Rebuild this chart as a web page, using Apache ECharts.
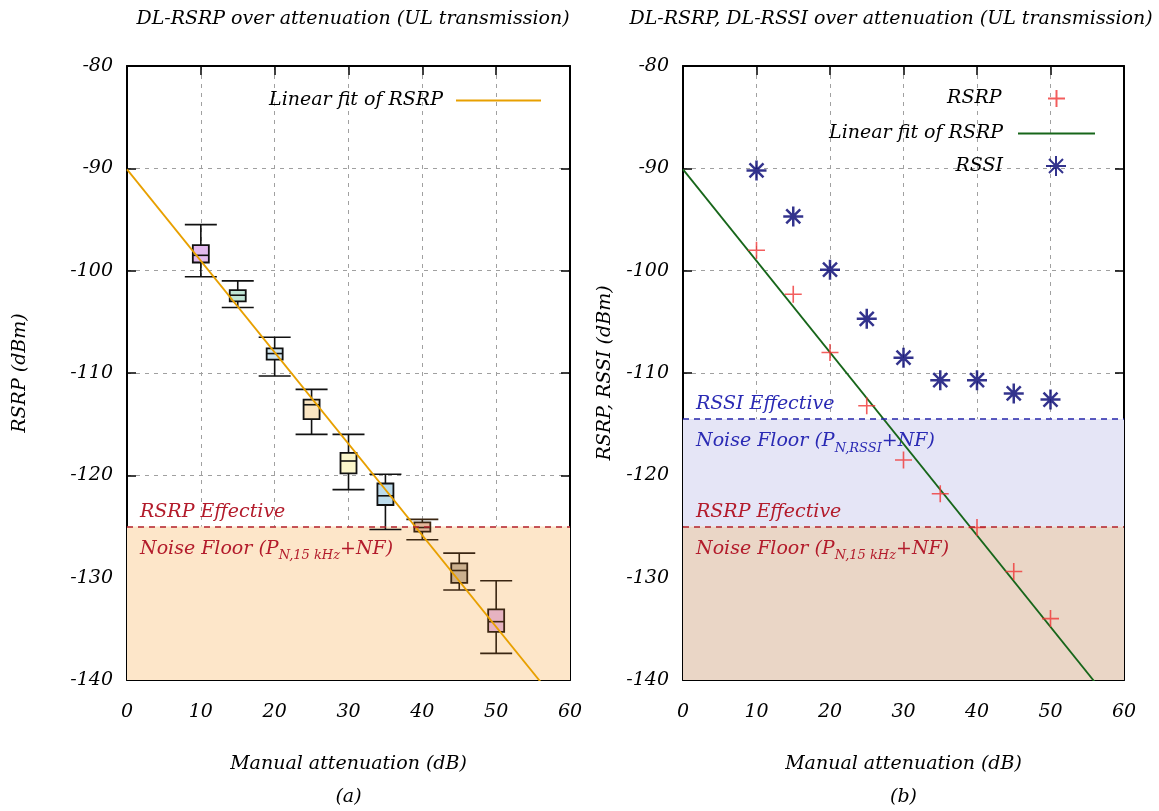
<!DOCTYPE html>
<html>
<head>
<meta charset="utf-8">
<script src="https://cdn.jsdelivr.net/npm/echarts@6/dist/echarts.min.js"></script>
<style>
html,body{margin:0;padding:0;background:#fff;}
#main{width:1159px;height:811px;}
</style>
</head>
<body>
<div id="main"></div>
<script>
// ---------- data ----------
const attenuation = [10, 15, 20, 25, 30, 35, 40, 45, 50];
// left panel: RSRP distribution per attenuation (whisker min, box low, median, box high, whisker max)
const boxMin  = [-100.6, -103.6, -110.3, -116.0, -121.4, -125.3, -126.3, -131.2, -137.4];
const boxQ1   = [-99.2, -103.0, -108.7, -114.5, -119.8, -122.9, -125.5, -130.5, -135.3];
const boxMed  = [-98.5, -102.4, -108.1, -113.1, -118.6, -122.0, -125.1, -129.3, -134.3];
const boxQ3   = [-97.5, -101.9, -107.6, -112.6, -117.8, -120.8, -124.6, -128.6, -133.1];
const boxMax  = [-95.5, -101.0, -106.5, -111.6, -116.0, -119.9, -124.3, -127.6, -130.3];
const boxColors = ['#e3b9ef', '#c0e6d6', '#cfe6f1', '#fae5c2', '#fbf6cb', '#bcdbec', '#e6b69a', '#cbb08e', '#e6b3c1'];
// right panel
const rsrp = [-98.0, -102.3, -108.0, -113.2, -118.5, -121.8, -125.1, -129.4, -134.0];
const rssi = [-90.2, -94.7, -99.9, -104.7, -108.5, -110.7, -110.7, -112.0, -112.6];
// linear fit of RSRP (end points)
const fitX = [0, 60];
const fitY = [-90.1, -143.75];
// thresholds
const rsrpEffective = -125;
const rssiEffective = -114.5;
const floorBottom = -140;
// axes
const xTicks = {min: 0, max: 60, interval: 10};
const yTicks = {min: -140, max: -80, interval: 10};

// ---------- styling ----------
const FONT = 'DejaVu Serif';
const FS = 19;
const txt = {fontFamily: FONT, fontStyle: 'italic', fontSize: FS, color: '#000', fontWeight: 'normal'};
const RED_TXT = '#b31b2b';
const BLUE_TXT = '#2a2ab4';

const grids = [
  {left: 127, top: 66, width: 443, height: 614, outerBoundsMode: 'none', containLabel: false},
  {left: 683, top: 66, width: 441, height: 614, outerBoundsMode: 'none', containLabel: false}
];

function mkX(gi, pos, name) {
  const main = pos === 'bottom';
  return {
    gridIndex: gi, type: 'value', position: pos,
    min: xTicks.min, max: xTicks.max, interval: xTicks.interval,
    axisLine: {show: true, onZero: false, lineStyle: {color: '#000', width: 2}},
    axisTick: {show: true, inside: true, length: 9, lineStyle: {color: '#000', width: 1.5}},
    axisLabel: {show: main, margin: 23, ...txt, formatter: v => String(v)},
    splitLine: {show: main, lineStyle: {color: '#a0a0a0', width: 1, type: [4, 5]}},
    name: main ? name : '', nameLocation: 'middle', nameGap: 68,
    nameTextStyle: {...txt, lineHeight: 33}
  };
}
function mkY(gi, pos, name, gap) {
  const main = pos === 'left';
  return {
    gridIndex: gi, type: 'value', position: pos,
    min: yTicks.min, max: yTicks.max, interval: yTicks.interval,
    axisLine: {show: true, onZero: false, lineStyle: {color: '#000', width: 2}},
    axisTick: {show: true, inside: true, length: 9, lineStyle: {color: '#000', width: 1.5}},
    axisLabel: {show: main, margin: 14, ...txt},
    splitLine: {show: main, lineStyle: {color: '#a0a0a0', width: 1, type: [4, 5]}},
    name: main ? name : '', nameLocation: 'middle', nameGap: gap, nameRotate: 90,
    nameTextStyle: {...txt}
  };
}

const boxData = attenuation.map((x, i) => [x, boxMin[i], boxQ1[i], boxMed[i], boxQ3[i], boxMax[i], i]);

function renderBox(params, api) {
  const x = api.value(0);
  const c = v => api.coord([x, v]);
  const pMin = c(api.value(1)), pQ1 = c(api.value(2)), pMed = c(api.value(3)),
        pQ3 = c(api.value(4)), pMax = c(api.value(5));
  const idx = api.value(6);
  const inFloor = api.value(3) < rsrpEffective + 1;
  const stroke = inFloor ? '#3b2612' : '#111';
  const bw = 8, cw = 16;
  const ls = {stroke: stroke, lineWidth: 1.6, fill: null};
  return {
    type: 'group',
    children: [
      {type: 'line', shape: {x1: pMax[0], y1: pMax[1], x2: pQ3[0], y2: pQ3[1]}, style: ls},
      {type: 'line', shape: {x1: pMin[0], y1: pMin[1], x2: pQ1[0], y2: pQ1[1]}, style: ls},
      {type: 'line', shape: {x1: pMax[0] - cw, y1: pMax[1], x2: pMax[0] + cw, y2: pMax[1]}, style: ls},
      {type: 'line', shape: {x1: pMin[0] - cw, y1: pMin[1], x2: pMin[0] + cw, y2: pMin[1]}, style: ls},
      {type: 'rect', shape: {x: pQ3[0] - bw, y: pQ3[1], width: 2 * bw, height: pQ1[1] - pQ3[1]},
        style: {fill: boxColors[idx], stroke: stroke, lineWidth: 1.8}},
      {type: 'line', shape: {x1: pMed[0] - bw, y1: pMed[1], x2: pMed[0] + bw, y2: pMed[1]}, style: ls}
    ]
  };
}

const fitData = fitX.map((x, i) => [x, fitY[i]]);
const plusPath = 'path://M0,10L20,10M10,0L10,20';
const starPath = 'path://M0,10L20,10M10,0L10,20M3,3L17,17M3,17L17,3';

function effLine(value, color, text) {
  return {yAxis: value, lineStyle: {color: color, type: [6, 5], width: 1.6},
    label: {show: true, position: 'insideStartTop', formatter: text, distance: [13, 5],
      fontFamily: FONT, fontStyle: 'italic', fontSize: FS, color: color === '#2626aa' ? BLUE_TXT : RED_TXT}};
}
function floorLabel(text, color) {
  return {show: true, position: 'insideTopLeft', distance: 0, offset: [13, 9], formatter: text,
    fontFamily: FONT, fontStyle: 'italic', fontSize: FS, color: color,
    rich: {
      m: {fontFamily: FONT, fontStyle: 'italic', fontSize: FS, color: color},
      sub: {fontFamily: FONT, fontStyle: 'italic', fontSize: 13, color: color, padding: [14, 0, 0, 0]}
    }};
}

const lineIcon = 'rect';

const option = {
  backgroundColor: '#fff',
  animation: false,
  title: [
    {text: 'DL-RSRP over attenuation (UL transmission)', left: 348, top: 5, textAlign: 'center',
      textStyle: {...txt}},
    {text: 'DL-RSRP, DL-RSSI over attenuation (UL transmission)', left: 886, top: 5, textAlign: 'center',
      textStyle: {...txt}}
  ],
  legend: [
    {data: [{name: 'Linear fit of RSRP ', icon: lineIcon}], right: 613, top: 86, itemWidth: 85, itemHeight: 2, align: 'right',
      textStyle: {...txt, padding: [0, 2, 0, 0]}},
    {data: [{name: 'RSRP'}], right: 88, top: 84, itemWidth: 18, itemHeight: 17, align: 'right',
      textStyle: {...txt, padding: [0, 41, 0, 0]}},
    {data: [{name: 'Linear fit of RSRP', icon: lineIcon}], right: 59, top: 119, itemWidth: 77, itemHeight: 2, align: 'right',
      textStyle: {...txt, padding: [0, 10, 0, 0]}},
    {data: [{name: 'RSSI'}], right: 87, top: 150, itemWidth: 20, itemHeight: 20, align: 'right',
      textStyle: {...txt, padding: [0, 38, 0, 0]}}
  ],
  grid: grids,
  xAxis: [
    mkX(0, 'bottom', 'Manual attenuation (dB)\n(a)'), mkX(0, 'top'),
    mkX(1, 'bottom', 'Manual attenuation (dB)\n(b)'), mkX(1, 'top')
  ],
  yAxis: [
    mkY(0, 'left', 'RSRP (dBm)', 97), mkY(0, 'right'),
    mkY(1, 'left', 'RSRP, RSSI (dBm)', 68), mkY(1, 'right')
  ],
  series: [
    // left: shaded floor region + threshold
    {type: 'line', xAxisIndex: 0, yAxisIndex: 0, data: [], z: 1, silent: true,
      markArea: {silent: true, itemStyle: {color: '#fde6c9'},
        data: [[{yAxis: rsrpEffective, label: floorLabel('{m|Noise Floor (P}{sub|N,15 kHz}{m|+NF)}', RED_TXT)}, {yAxis: floorBottom}]]},
      markLine: {silent: true, symbol: 'none', data: [effLine(rsrpEffective, '#b3202c', 'RSRP Effective')]}},
    {name: 'boxes', type: 'custom', xAxisIndex: 0, yAxisIndex: 0, data: boxData, renderItem: renderBox, z: 3},
    {name: 'Linear fit of RSRP ', type: 'line', xAxisIndex: 0, yAxisIndex: 0, data: fitData, showSymbol: false,
      symbol: 'none', clip: true, z: 4, lineStyle: {color: '#e8a000', width: 1.8}, itemStyle: {color: '#e8a000'}},
    // right
    {type: 'line', xAxisIndex: 2, yAxisIndex: 2, data: [], z: 1, silent: true,
      markArea: {silent: true, data: [
        [{yAxis: rssiEffective, itemStyle: {color: '#e5e5f6'}, label: floorLabel('{m|Noise Floor (P}{sub|N,RSSI}{m|+NF)}', BLUE_TXT)}, {yAxis: rsrpEffective}],
        [{yAxis: rsrpEffective, itemStyle: {color: '#ead6c6'}, label: floorLabel('{m|Noise Floor (P}{sub|N,15 kHz}{m|+NF)}', RED_TXT)}, {yAxis: floorBottom}]
      ]},
      markLine: {silent: true, symbol: 'none', data: [
        effLine(rssiEffective, '#2626aa', 'RSSI Effective'),
        effLine(rsrpEffective, '#b3202c', 'RSRP Effective')
      ]}},
    {name: 'RSRP', type: 'scatter', xAxisIndex: 2, yAxisIndex: 2, z: 4,
      data: attenuation.map((x, i) => [x, rsrp[i]]), symbol: plusPath, symbolSize: 17,
      itemStyle: {color: 'rgba(0,0,0,0)', borderColor: '#f03434', borderWidth: 1.6}},
    {name: 'Linear fit of RSRP', type: 'line', xAxisIndex: 2, yAxisIndex: 2, data: fitData, symbol: 'none',
      clip: true, z: 3, lineStyle: {color: '#17661a', width: 1.8}, itemStyle: {color: '#17661a'}},
    {name: 'RSSI', type: 'scatter', xAxisIndex: 2, yAxisIndex: 2, z: 4,
      data: attenuation.map((x, i) => [x, rssi[i]]), symbol: starPath, symbolSize: 20,
      itemStyle: {color: 'rgba(0,0,0,0)', borderColor: '#000070', borderWidth: 2.5}}
  ]
};

const chart = echarts.init(document.getElementById('main'), null, {renderer: 'canvas'});
chart.setOption(option);
</script>
</body>
</html>
